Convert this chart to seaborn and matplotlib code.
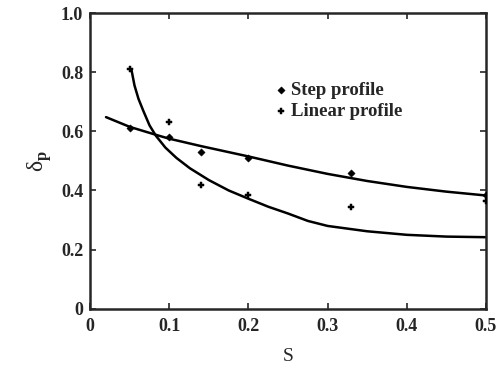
import matplotlib
matplotlib.use("Agg")
import matplotlib.pyplot as plt
import numpy as np
import pandas as pd
import seaborn as sns

# measured points
S_STEP = [0.05, 0.10, 0.14, 0.20, 0.33, 0.50]
D_STEP = [0.61, 0.58, 0.53, 0.51, 0.46, 0.385]
S_LIN = [0.05, 0.10, 0.14, 0.20, 0.33, 0.50]
D_LIN = [0.81, 0.63, 0.42, 0.385, 0.345, 0.365]

# fitted curves
S_FIT_STEP = [0.02, 0.05, 0.087, 0.10, 0.14, 0.20, 0.25, 0.30, 0.35, 0.40, 0.45, 0.50]
D_FIT_STEP = [0.648, 0.615, 0.585, 0.575, 0.55, 0.515, 0.484, 0.456, 0.432,
              0.412, 0.396, 0.383]
S_FIT_LIN = [0.052, 0.056, 0.061, 0.067, 0.075, 0.083, 0.095, 0.109, 0.126,
             0.15, 0.175, 0.20, 0.225, 0.25, 0.275, 0.30, 0.35, 0.40, 0.45, 0.50]
D_FIT_LIN = [0.81, 0.755, 0.71, 0.67, 0.62, 0.585, 0.545, 0.51, 0.475,
             0.435, 0.40, 0.372, 0.345, 0.322, 0.297, 0.28, 0.262, 0.25, 0.244, 0.242]

X_TICKS = [0, 0.1, 0.2, 0.3, 0.4, 0.5]
X_LABELS = ["0", "0.1", "0.2", "0.3", "0.4", "0.5"]
Y_TICKS = [0, 0.2, 0.4, 0.6, 0.8, 1.0]
Y_LABELS = ["0", "0.2", "0.4", "0.6", "0.8", "1.0"]

sns.set_style("ticks")
plt.rcParams["font.family"] = ["Liberation Serif", "DejaVu Serif"]
plt.rcParams["font.weight"] = "bold"
plt.rcParams["mathtext.fontset"] = "custom"
plt.rcParams["mathtext.rm"] = "Liberation Serif:bold"

fig = plt.figure(figsize=(5.01, 3.72), dpi=100)
ax = fig.add_axes([0.18, 0.17, 0.79, 0.795])

fit_step = pd.DataFrame({"S": S_FIT_STEP, "d": D_FIT_STEP})
fit_lin = pd.DataFrame({"S": S_FIT_LIN, "d": D_FIT_LIN})
sns.lineplot(data=fit_step, x="S", y="d", color="black", lw=1.8, ax=ax, sort=False)
sns.lineplot(data=fit_lin, x="S", y="d", color="black", lw=1.8, ax=ax, sort=False)

pts_step = pd.DataFrame({"S": S_STEP, "d": D_STEP})
pts_lin = pd.DataFrame({"S": S_LIN, "d": D_LIN})
sns.scatterplot(data=pts_step, x="S", y="d", marker="D", s=14, color="black",
                edgecolor="black", ax=ax, label="Step profile", zorder=3)
sns.scatterplot(data=pts_lin, x="S", y="d", marker="P", s=18, color="black",
                edgecolor="black", ax=ax, label="Linear profile", zorder=3)

ax.set_xlim(0, 0.5)
ax.set_ylim(0, 1.0)
ax.set_xticks(X_TICKS)
ax.set_xticklabels(X_LABELS)
ax.set_yticks(Y_TICKS)
ax.set_yticklabels(Y_LABELS)
ax.tick_params(direction="in", top=True, right=True, length=4, width=1.2,
               labelsize=13)
ax.tick_params(axis="x", pad=7)
ax.tick_params(axis="y", pad=5)
for sp in ax.spines.values():
    sp.set_linewidth(1.8)

ax.set_xlabel("S", fontsize=14, labelpad=9)
ax.set_ylabel("δ$_\\mathrm{p}$", fontsize=17, labelpad=5)

leg = ax.legend(loc="upper left", bbox_to_anchor=(0.45, 0.80), frameon=False,
                handlelength=0.4, handletextpad=0.3, labelspacing=0.2,
                borderpad=0, fontsize=13.5)

fig.savefig("out.png", dpi=100)
